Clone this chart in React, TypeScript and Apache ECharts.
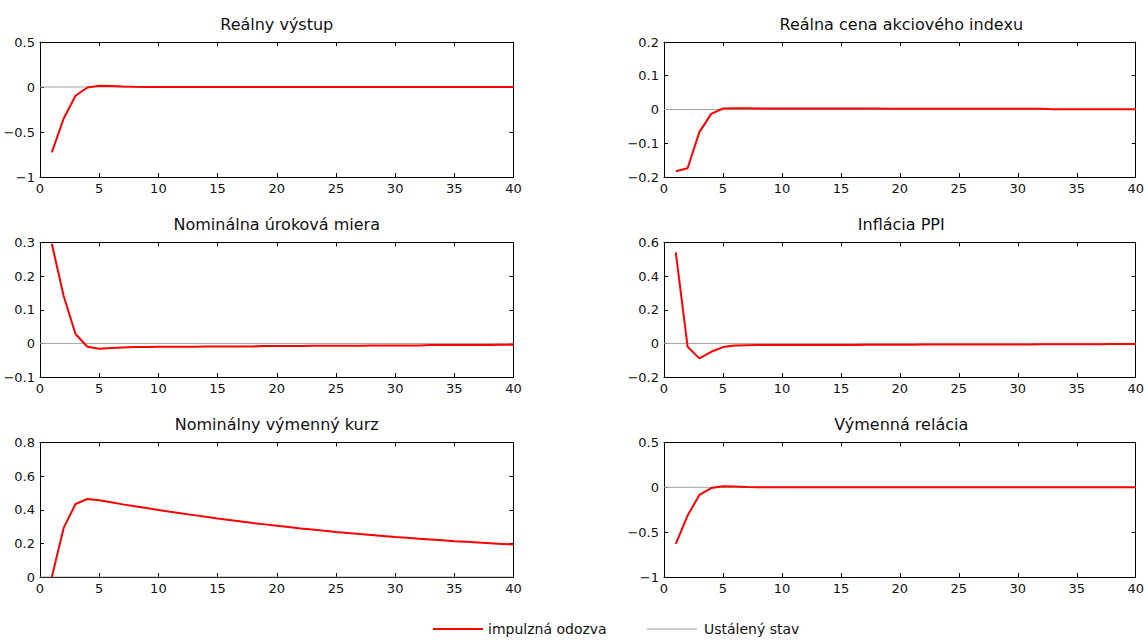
import React, { useEffect, useRef } from "react";
import * as echarts from "echarts";

const periods: number[] = Array.from({ length: 40 }, (_, i) => i + 1);
const xTicks = { min: 0, max: 40, interval: 5 };

const titles = [
  "Reálny výstup",
  "Reálna cena akciového indexu",
  "Nominálna úroková miera",
  "Inflácia PPI",
  "Nominálny výmenný kurz",
  "Výmenná relácia",
];

const realOutput = [
  -0.726, -0.35, -0.097, -0.005, 0.013, 0.011, 0.006, 0.003, 0.001, 0.0,
  0, 0, 0, 0, 0, 0, 0, 0, 0, 0,
  0, 0, 0, 0, 0, 0, 0, 0, 0, 0,
  0, 0, 0, 0, 0, 0, 0, 0, 0, 0,
];
const stockIndex = [
  -0.183, -0.174, -0.067, -0.013, 0.003, 0.004, 0.004, 0.003, 0.003, 0.003,
  0.003, 0.003, 0.003, 0.003, 0.003, 0.003, 0.003, 0.003, 0.002, 0.002,
  0.002, 0.002, 0.002, 0.002, 0.002, 0.002, 0.002, 0.002, 0.002, 0.002,
  0.002, 0.002, 0.001, 0.001, 0.001, 0.001, 0.001, 0.001, 0.001, 0.001,
];
const interestRate = [
  0.296, 0.141, 0.028, -0.01, -0.016, -0.014, -0.012, -0.011, -0.011, -0.01,
  -0.01, -0.01, -0.01, -0.009, -0.009, -0.009, -0.009, -0.009, -0.008, -0.008,
  -0.008, -0.008, -0.007, -0.007, -0.007, -0.007, -0.007, -0.006, -0.006, -0.006,
  -0.006, -0.006, -0.005, -0.005, -0.005, -0.005, -0.005, -0.005, -0.004, -0.004,
];
const inflationPPI = [
  0.541, -0.02, -0.089, -0.05, -0.022, -0.013, -0.011, -0.01, -0.01, -0.01,
  -0.01, -0.009, -0.009, -0.009, -0.009, -0.009, -0.008, -0.008, -0.008, -0.008,
  -0.008, -0.007, -0.007, -0.007, -0.007, -0.007, -0.006, -0.006, -0.006, -0.006,
  -0.006, -0.005, -0.005, -0.005, -0.005, -0.005, -0.005, -0.004, -0.004, -0.004,
];
const exchangeRate = [
  0.0, 0.292, 0.434, 0.464, 0.457, 0.445, 0.432, 0.421, 0.41, 0.399,
  0.388, 0.378, 0.368, 0.358, 0.348, 0.339, 0.33, 0.321, 0.313, 0.305,
  0.297, 0.289, 0.282, 0.275, 0.268, 0.262, 0.256, 0.25, 0.244, 0.238,
  0.233, 0.228, 0.223, 0.218, 0.213, 0.209, 0.205, 0.201, 0.197, 0.193,
];
const termsOfTrade = [
  -0.63, -0.315, -0.085, -0.008, 0.013, 0.01, 0.005, 0.002, 0.001, 0.0,
  0, 0, 0, 0, 0, 0, 0, 0, 0, 0,
  0, 0, 0, 0, 0, 0, 0, 0, 0, 0,
  0, 0, 0, 0, 0, 0, 0, 0, 0, 0,
];

const steadyX = [0, 40];
const steadyY = [0, 0];

const yRanges = [
  { min: -1, max: 0.5, interval: 0.5 },
  { min: -0.2, max: 0.2, interval: 0.1 },
  { min: -0.1, max: 0.3, interval: 0.1 },
  { min: -0.2, max: 0.6, interval: 0.2 },
  { min: 0, max: 0.8, interval: 0.2 },
  { min: -1, max: 0.5, interval: 0.5 },
];

const responses = [realOutput, stockIndex, interestRate, inflationPPI, exchangeRate, termsOfTrade];

const IRF_NAME = "impulzná odozva";
const SS_NAME = "Ustálený stav";

const FONT = "DejaVu Sans, Liberation Sans, Arial, sans-serif";

export default function App() {
  const ref = useRef<HTMLDivElement>(null);
  useEffect(() => {
    if (!ref.current) return;
    const chart = echarts.init(ref.current, undefined, { renderer: "svg" });

    const gridPos = [
      { left: 40, top: 42, width: 473.5, height: 135 },
      { left: 664, top: 42, width: 474.5, height: 135 },
      { left: 40, top: 242.5, width: 473.5, height: 134.5 },
      { left: 664, top: 242.5, width: 474.5, height: 134.5 },
      { left: 40, top: 442.5, width: 473.5, height: 134.5 },
      { left: 664, top: 442.5, width: 474.5, height: 134.5 },
    ];

    const fmt = (v: number) => String(+v.toFixed(2)).replace("-", "\u2212");

    const grid: any[] = [];
    const xAxis: any[] = [];
    const yAxis: any[] = [];
    const series: any[] = [];
    const graphic: any[] = [];

    gridPos.forEach((g, i) => {
      grid.push({ ...g, containLabel: false, show: false });
      const axLine = { show: true, onZero: false, lineStyle: { color: "#000", width: 1 } };
      const tick = { show: true, inside: true, length: 4, lineStyle: { color: "#000" } };
      xAxis.push({
        type: "value", gridIndex: i, position: "bottom", ...xTicks,
        axisLine: axLine, axisTick: tick, splitLine: { show: false },
        axisLabel: { color: "#111", fontSize: 13, fontFamily: FONT, margin: 5 },
      });
      xAxis.push({
        type: "value", gridIndex: i, position: "top", ...xTicks,
        axisLine: axLine, axisTick: tick, splitLine: { show: false },
        axisLabel: { show: false },
      });
      const yr = yRanges[i];
      yAxis.push({
        type: "value", gridIndex: i, position: "left", ...yr,
        axisLine: axLine, axisTick: tick, splitLine: { show: false },
        axisLabel: { color: "#111", fontSize: 13, fontFamily: FONT, margin: 5, formatter: fmt },
      });
      yAxis.push({
        type: "value", gridIndex: i, position: "right", ...yr,
        axisLine: axLine, axisTick: tick, splitLine: { show: false },
        axisLabel: { show: false },
      });

      series.push({
        name: SS_NAME, type: "line", xAxisIndex: 2 * i, yAxisIndex: 2 * i,
        data: steadyX.map((x, k) => [x, steadyY[k]]),
        symbol: "none", lineStyle: { color: "#a0a0a0", width: 1 }, itemStyle: { color: "#a0a0a0" },
        z: 2,
      });
      series.push({
        name: IRF_NAME, type: "line", xAxisIndex: 2 * i, yAxisIndex: 2 * i,
        data: periods.map((p, k) => [p, responses[i][k]]),
        symbol: "none", lineStyle: { color: "#ff0000", width: 2 }, itemStyle: { color: "#ff0000" },
        z: 3,
      });

      graphic.push({
        type: "text",
        x: g.left + g.width / 2,
        y: g.top - 18,
        style: {
          text: titles[i], fontSize: 16, fontFamily: FONT, fill: "#111",
          textAlign: "center", textVerticalAlign: "middle",
        },
      });
    });

    chart.setOption({
      animation: false,
      backgroundColor: "#fff",
      grid, xAxis, yAxis, series, graphic,
      legend: [
        {
          data: [{ name: IRF_NAME, icon: "rect" }],
          left: 433,
          top: 622,
          padding: 0,
          itemWidth: 50,
          itemHeight: 2,
          textStyle: { fontSize: 14, fontFamily: FONT, color: "#111" },
        },
        {
          data: [{ name: SS_NAME, icon: "rect" }],
          left: 647,
          top: 622,
          padding: 0,
          itemWidth: 50,
          itemHeight: 1,
          textStyle: { fontSize: 14, fontFamily: FONT, color: "#111", padding: [0, 0, 0, 2] },
        },
      ],
    });
    return () => chart.dispose();
  }, []);
  return (
    <div
      ref={ref}
      style={{ position: "absolute", left: 0, top: 0, width: 1147, height: 640 }}
    />
  );
}
